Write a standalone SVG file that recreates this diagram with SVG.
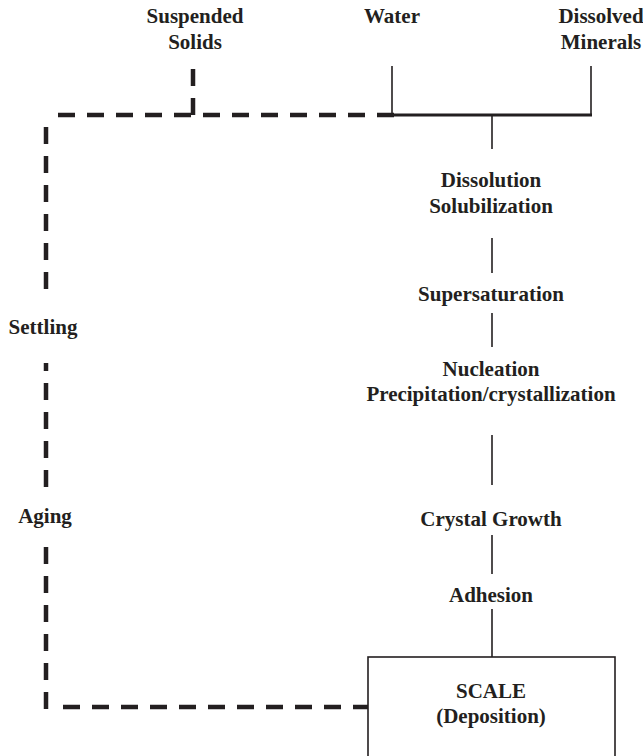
<svg xmlns="http://www.w3.org/2000/svg" width="643" height="756" viewBox="0 0 643 756">
<style>
text{font-family:"Liberation Serif","Times New Roman",serif;font-weight:bold;font-size:21px;fill:#231f20;text-anchor:middle}
.s{stroke:#231f20;stroke-width:1.6;fill:none}
.d{stroke:#231f20;stroke-width:4.5;fill:none;stroke-dasharray:17 12}
</style>
<rect width="643" height="756" fill="#fff"/>
<g id="suspended"><text x="195" y="23">Suspended</text><text x="195" y="49">Solids</text></g>
<g id="water"><text x="392" y="23">Water</text></g>
<g id="minerals"><text x="601" y="23">Dissolved</text><text x="601" y="49">Minerals</text></g>
<g id="dissolution"><text x="491" y="187">Dissolution</text><text x="491" y="213">Solubilization</text></g>
<g id="supersaturation"><text x="491" y="301">Supersaturation</text></g>
<g id="nucleation"><text x="491" y="376">Nucleation</text><text x="491" y="401">Precipitation/crystallization</text></g>
<g id="growth"><text x="491" y="526">Crystal Growth</text></g>
<g id="adhesion"><text x="491" y="602">Adhesion</text></g>
<g id="settling"><text x="43" y="334">Settling</text></g>
<g id="aging"><text x="45" y="523">Aging</text></g>
<g id="scale"><rect x="368" y="657" width="247" height="110" class="s"/><text x="491" y="698">SCALE</text><text x="491" y="723">(Deposition)</text></g>
<g id="connectors">
<line x1="392" y1="66" x2="392" y2="115" class="s"/>
<line x1="591" y1="66" x2="591" y2="115" class="s"/>
<line x1="391" y1="115" x2="592" y2="115" stroke="#231f20" stroke-width="3"/>
<line x1="492" y1="115" x2="492" y2="149" class="s"/>
<line x1="492" y1="238" x2="492" y2="273" class="s"/>
<line x1="492" y1="313" x2="492" y2="347" class="s"/>
<line x1="492" y1="435" x2="492" y2="485" class="s"/>
<line x1="492" y1="535" x2="492" y2="574" class="s"/>
<line x1="492" y1="609" x2="492" y2="657" class="s"/>
<path d="M193 69V116" class="d"/>
<path d="M58 115H394" class="d"/>
<path d="M46 127V289" class="d"/>
<path d="M46 363V487" class="d" stroke-dashoffset="9"/>
<path d="M46 547V709" class="d"/>
<path d="M63 707H368" class="d"/>
</g>
</svg>
